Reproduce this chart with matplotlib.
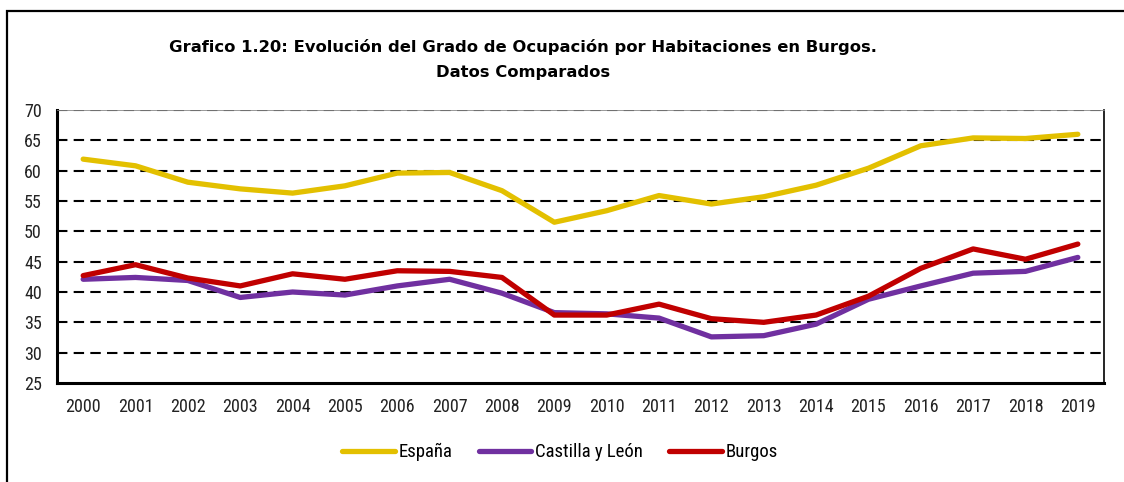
import matplotlib.pyplot as plt
from matplotlib.patches import Rectangle
from matplotlib import font_manager

years = list(range(2000, 2020))
espana = [61.9, 60.8, 58.1, 57.0, 56.3, 57.5, 59.6, 59.7, 56.7, 51.5,
          53.4, 55.9, 54.5, 55.7, 57.6, 60.4, 64.1, 65.4, 65.3, 66.0]
castilla = [42.1, 42.4, 41.9, 39.1, 40.0, 39.5, 41.0, 42.1, 39.8, 36.6,
            36.4, 35.7, 32.6, 32.8, 34.7, 38.8, 41.0, 43.1, 43.4, 45.7]
burgos = [42.7, 44.5, 42.3, 41.0, 43.0, 42.1, 43.5, 43.4, 42.4, 36.2,
          36.2, 38.0, 35.6, 35.0, 36.2, 39.3, 43.9, 47.1, 45.4, 47.9]
labels = ['España', 'Castilla y León', 'Burgos']
colors = ['#E3C000', '#7030A0', '#C00000']

names = {f.name for f in font_manager.fontManager.ttflist}
narrow = 'Liberation Sans'
for cand in ['Liberation Sans Narrow', 'DejaVu Sans Condensed', 'Roboto Condensed']:
    if cand in names:
        narrow = cand
        break

fig = plt.figure(figsize=(11.24, 4.82), dpi=100)
ax = fig.add_axes([57/1124, 1-383/482, (1104-57)/1124, (383-110)/482])

for vals, lab, col in zip([espana, castilla, burgos], labels, colors):
    ax.plot(years, vals, color=col, lw=3.8, label=lab, solid_capstyle='round')

ax.set_ylim(25, 70)
ax.set_xlim(1999.5, 2019.5)
ax.set_yticks(range(25, 71, 5))
ax.set_xticks(years)
for y in range(30, 71, 5):
    ax.axhline(y, color='black', lw=1.5, ls=(0, (5, 3)), zorder=0)

ax.tick_params(length=0, labelsize=13)
ax.tick_params(axis='x', pad=11)
ax.tick_params(axis='y', pad=11)
for t in ax.get_xticklabels() + ax.get_yticklabels():
    t.set_fontfamily(narrow)
    t.set_color('#222222')
for s in ['left', 'bottom']:
    ax.spines[s].set_linewidth(2.2)
ax.spines['right'].set_linewidth(1.2)
ax.spines['top'].set_linewidth(0.6)
ax.spines['top'].set_color('#888888')

fig.text(523/1124, 1-47/482, 'Grafico 1.20: Evolución del Grado de Ocupación por Habitaciones en Burgos.',
         ha='center', va='center', fontsize=11.8, fontweight='bold', family='DejaVu Sans')
fig.text(523/1124, 1-72/482, 'Datos Comparados',
         ha='center', va='center', fontsize=11.8, fontweight='bold', family='DejaVu Sans')

ax.legend(loc='center', bbox_to_anchor=(560/1124, 1-452/482), bbox_transform=fig.transFigure,
          ncol=3, frameon=False, handlelength=2.8, handletextpad=0.2, columnspacing=1.4,
          prop={'family': narrow, 'size': 13.5})

fig.patches.append(Rectangle((7/1124, -0.2), 1.2, 0.2 + (482-11)/482, transform=fig.transFigure,
                             fill=False, edgecolor='black', lw=1.6))

fig.savefig('out.png', dpi=100)
